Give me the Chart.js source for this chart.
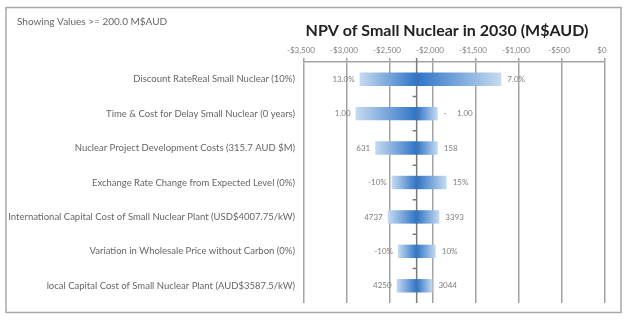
<!DOCTYPE html>
<html>
<head>
<meta charset="utf-8">
<script src="https://cdn.jsdelivr.net/npm/chart.js@4"></script>
<style>
  html, body { margin: 0; padding: 0; background: #fff; }
  #wrap { width: 628px; height: 322px; }
</style>
</head>
<body>
<div id="wrap"><canvas id="npv" width="628" height="322"></canvas></div>
<script>
// sensitivity factors, top to bottom
var factors = [
  "Discount RateReal Small Nuclear (10%)",
  "Time & Cost for Delay Small Nuclear (0 years)",
  "Nuclear Project Development Costs (315.7 AUD $M)",
  "Exchange Rate Change from Expected Level (0%)",
  "International Capital Cost of Small Nuclear Plant (USD$4007.75/kW)",
  "Variation in Wholesale Price without Carbon (0%)",
  "local Capital Cost of Small Nuclear Plant (AUD$3587.5/kW)"
];
var baseValue = -2190;
var lowValues = [-2853, -2900, -2672, -2480, -2526, -2407, -2423];
var highValues = [-1205, -1945, -1945, -1841, -1926, -1968, -2007];
var lowLabels = ["13.0%", "1.00", "631", "-10%", "4737", "-10%", "4250"];
var highLabels = ["7.0%", "-     1.00", "158", "15%", "3393", "10%", "3044"];
var axisTicks = [-3500, -3000, -2500, -2000, -1500, -1000, -500, 0];

var darkBlue = "#2f74c6";
var lightBlue = "#c6dbf1";
var gridGray = "#a3a3a3";
var fontName = "Lato, 'Liberation Sans', sans-serif";

function money(v) {
  if (v === 0) return "$0";
  var s = Math.abs(v).toLocaleString("en-US");
  return (v < 0 ? "-$" : "$") + s;
}

// light at the outer end, dark at the base value
function barFill(context) {
  var chart = context.chart;
  if (!chart.chartArea || !context.raw) return darkBlue;
  var x = chart.scales.x;
  var outer = context.raw[0] === baseValue ? context.raw[1] : context.raw[0];
  var g = chart.ctx.createLinearGradient(x.getPixelForValue(outer), 0, x.getPixelForValue(baseValue), 0);
  g.addColorStop(0, lightBlue);
  g.addColorStop(1, darkBlue);
  return g;
}

var decorations = {
  id: "decorations",
  beforeDraw: function(chart) {
    var ctx = chart.ctx;
    ctx.save();
    ctx.fillStyle = "#fff";
    ctx.fillRect(0, 0, chart.width, chart.height);
    ctx.strokeStyle = "#a9a9a9";
    ctx.lineWidth = 1.5;
    ctx.strokeRect(6, 7.5, 615, 305);
    ctx.fillStyle = "#666";
    ctx.font = "10px " + fontName;
    ctx.textAlign = "left";
    ctx.textBaseline = "middle";
    ctx.fillText("Showing Values >= 200.0 M$AUD", 17, 22);
    ctx.fillStyle = "#222";
    ctx.font = "bold 16px " + fontName;
    ctx.textAlign = "center";
    ctx.fillText("NPV of Small Nuclear in 2030 (M$AUD)", 447, 31);
    ctx.restore();
  },
  beforeDatasetsDraw: function(chart) {
    var ctx = chart.ctx;
    var area = chart.chartArea;
    var x = chart.scales.x.getPixelForValue(baseValue);
    var step = (area.bottom - area.top) / factors.length;
    ctx.save();
    ctx.strokeStyle = "#7a7a7a";
    ctx.lineWidth = 1.5;
    ctx.beginPath();
    ctx.moveTo(x, area.top - 4);
    ctx.lineTo(x, area.bottom);
    for (var i = 1; i < factors.length; i++) {
      var y = area.top + i * step;
      ctx.moveTo(x - 4, y);
      ctx.lineTo(x, y);
    }
    ctx.stroke();
    ctx.restore();
  },
  afterDatasetsDraw: function(chart) {
    var ctx = chart.ctx;
    var xs = chart.scales.x;
    var ys = chart.scales.y;
    ctx.save();
    ctx.fillStyle = "#808080";
    ctx.font = "8px " + fontName;
    ctx.textBaseline = "middle";
    for (var i = 0; i < factors.length; i++) {
      var y = ys.getPixelForValue(i);
      ctx.textAlign = "right";
      ctx.fillText(lowLabels[i], xs.getPixelForValue(lowValues[i]) - 5, y);
      ctx.textAlign = "left";
      ctx.fillText(highLabels[i], xs.getPixelForValue(highValues[i]) + 6, y);
    }
    ctx.restore();
  }
};

new Chart(document.getElementById("npv"), {
  type: "bar",
  data: {
    labels: factors,
    datasets: [{
      data: lowValues.map(function(v) { return [v, baseValue]; }),
      backgroundColor: barFill
    }, {
      data: highValues.map(function(v) { return [baseValue, v]; }),
      backgroundColor: barFill
    }]
  },
  options: {
    indexAxis: "y",
    responsive: false,
    animation: false,
    grouped: false,
    borderSkipped: false,
    borderWidth: 0,
    barPercentage: 0.39,
    categoryPercentage: 1,
    layout: { padding: { top: 40, right: 23, bottom: 19, left: 0 } },
    plugins: {
      legend: { display: false },
      tooltip: { enabled: false },
      title: { display: false }
    },
    scales: {
      x: {
        position: "top",
        min: -3500,
        max: 0,
        afterBuildTicks: function(scale) {
          scale.ticks = axisTicks.map(function(v) { return { value: v }; });
        },
        afterFit: function(scale) { scale.height = 22; },
        grid: { color: gridGray, lineWidth: 1.5, tickLength: 4 },
        border: { display: true, color: gridGray, width: 1.5 },
        ticks: {
          callback: function(v) { return money(v); },
          color: "#808080",
          font: { family: fontName, size: 8 },
          padding: 3,
          labelOffset: -3,
          maxRotation: 0
        }
      },
      y: {
        offset: true,
        afterFit: function(scale) { scale.width = 304; },
        grid: { display: false, drawTicks: false },
        border: { display: false },
        ticks: {
          color: "#666",
          font: { family: fontName, size: 9.5 },
          padding: 9,
          autoSkip: false
        }
      }
    }
  },
  plugins: [decorations]
});
</script>
</body>
</html>
